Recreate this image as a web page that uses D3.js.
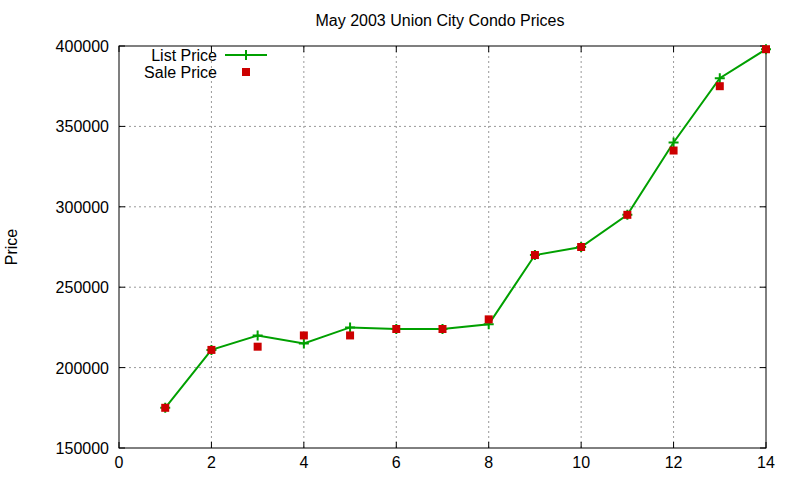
<!DOCTYPE html>
<html><head><meta charset="utf-8">
<script src="https://cdn.jsdelivr.net/npm/d3@7"></script>
<style>body{margin:0;background:#fff}text{font-family:"Liberation Sans",Arial,sans-serif;font-size:16px}</style>
</head><body><svg id="c" width="800" height="480"></svg>
<script>
var days = [1,2,3,4,5,6,7,8,9,10,11,12,13,14];
var listPrice = [175000,211000,220000,215000,225000,224000,224000,227000,270000,275000,295000,340000,380000,398000];
var salePrice = [175000,211000,213000,220000,220000,224000,224000,230000,270000,275000,295000,335000,375000,398000];
var xTicks = [0,2,4,6,8,10,12,14];
var yTicks = [150000,200000,250000,300000,350000,400000];

var svg = d3.select("#c");
var L = 119, R = 766, T = 46, B = 448;
var x = d3.scaleLinear().domain([0,14]).range([L,R]);
var y = d3.scaleLinear().domain([150000,400000]).range([B,T]);

// grid
svg.selectAll(".gx").data(xTicks.slice(1,-1)).enter().append("line")
	.attr("x1",function(d){return x(d)}).attr("x2",function(d){return x(d)})
	.attr("y1",T).attr("y2",B).attr("stroke","#999").attr("stroke-dasharray","2,3")
svg.selectAll(".gy").data(yTicks.slice(1,-1)).enter().append("line")
	.attr("y1",function(d){return y(d)}).attr("y2",function(d){return y(d)})
	.attr("x1",L).attr("x2",R).attr("stroke","#999").attr("stroke-dasharray","2,3")

// ticks on both sides
xTicks.forEach(function(d){
	svg.append("line").attr("x1",x(d)).attr("x2",x(d)).attr("y1",B).attr("y2",B-6).attr("stroke","#000")
	svg.append("line").attr("x1",x(d)).attr("x2",x(d)).attr("y1",T).attr("y2",T+6).attr("stroke","#000")
	svg.append("text").attr("x",x(d)).attr("y",B+20).attr("text-anchor","middle").text(d)
})
yTicks.forEach(function(d){
	svg.append("line").attr("x1",L).attr("x2",L+6).attr("y1",y(d)).attr("y2",y(d)).attr("stroke","#000")
	svg.append("line").attr("x1",R).attr("x2",R-6).attr("y1",y(d)).attr("y2",y(d)).attr("stroke","#000")
	svg.append("text").attr("x",L-10).attr("y",y(d)+6).attr("text-anchor","end").text(d)
})
svg.append("rect").attr("x",L).attr("y",T).attr("width",R-L).attr("height",B-T)
	.attr("fill","none").attr("stroke","#000")

svg.append("text").attr("x",440).attr("y",26).attr("text-anchor","middle").text("May 2003 Union City Condo Prices")
svg.append("text").attr("transform","translate(17,247) rotate(-90)").attr("text-anchor","middle").text("Price")

var green = "#00a000", red = "#cc0000";
var line = d3.line().x(function(d,i){return x(days[i])}).y(function(d){return y(d)});
svg.append("path").datum(listPrice).attr("d",line).attr("fill","none").attr("stroke",green).attr("stroke-width",2)
function plus(g,cx,cy){
	g.append("path").attr("d","M"+(cx-5)+","+cy+"h10M"+cx+","+(cy-5)+"v10").attr("stroke",green).attr("stroke-width",2)
}
listPrice.forEach(function(d,i){ plus(svg,x(days[i]),y(d)) })
svg.selectAll(".sq").data(salePrice).enter().append("rect")
	.attr("x",function(d,i){return x(days[i])-4}).attr("y",function(d){return y(d)-4})
	.attr("width",8).attr("height",8).attr("fill",red)

// legend
svg.append("text").attr("x",217).attr("y",61).attr("text-anchor","end").text("List Price")
svg.append("line").attr("x1",225).attr("x2",267).attr("y1",55).attr("y2",55).attr("stroke",green).attr("stroke-width",2)
plus(svg,246,55)
svg.append("text").attr("x",217).attr("y",78).attr("text-anchor","end").text("Sale Price")
svg.append("rect").attr("x",242).attr("y",68).attr("width",8).attr("height",8).attr("fill",red)
</script></body></html>
